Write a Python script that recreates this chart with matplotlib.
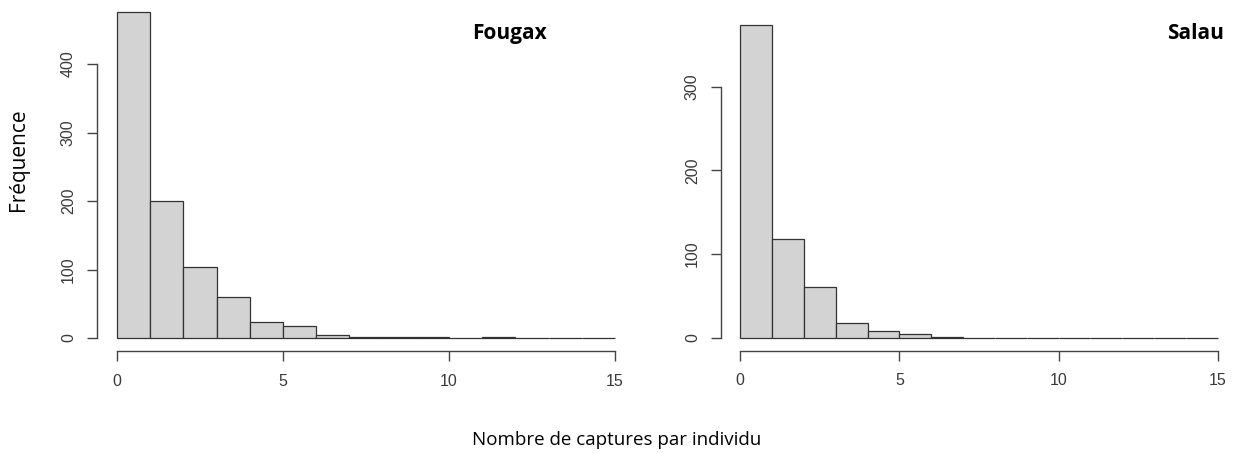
import matplotlib.pyplot as plt
import numpy as np

# bin edges shared by both histograms (width 1, 0..15)
bins = np.arange(0, 16)

# counts
fougax_counts = [476, 200, 103, 60, 23, 17, 5, 1, 1, 1, 0, 1, 0, 0, 0]
salau_counts = [374, 118, 61, 18, 8, 5, 1, 0, 0, 0, 0, 0, 0, 0, 0]

fougax_yticks = [0, 100, 200, 300, 400]
salau_yticks = [0, 100, 200, 300]
xticks = [0, 5, 10, 15]

fig = plt.figure(figsize=(12.33, 4.53), dpi=100)

tick_font = dict(family='Liberation Sans', size=11.5, color='#3a3a3a')


def draw_hist(ax, counts, yticks, ylim):
    ax.bar(bins[:-1], counts, width=1, align='edge', color='#d3d3d3',
           edgecolor='#333333', linewidth=0.9)
    ax.set_xlim(-0.6, 15.6)
    ax.set_ylim(*ylim)
    for s in ['top', 'right']:
        ax.spines[s].set_visible(False)
    ax.spines['left'].set_bounds(yticks[0], yticks[-1])
    ax.spines['bottom'].set_bounds(0, 15)
    for s in ['left', 'bottom']:
        ax.spines[s].set_color('#444444')
        ax.spines[s].set_linewidth(1.0)
    ax.set_xticks(xticks)
    ax.set_yticks(yticks)
    ax.set_xticklabels([str(t) for t in xticks], **tick_font)
    ax.set_yticklabels([str(t) for t in yticks], rotation=90, va='center', **tick_font)
    ax.tick_params(length=7.2, width=1.0, color='#444444')
    ax.tick_params(axis='y', pad=8)
    ax.tick_params(axis='x', pad=9)


ax1 = fig.add_axes([97 / 1233, 1 - 351 / 453, 538 / 1233, 352 / 453])
draw_hist(ax1, fougax_counts, fougax_yticks, (-19, 495))

ax2 = fig.add_axes([721 / 1233, 1 - 350.5 / 453, 516 / 1233, 338.5 / 453])
draw_hist(ax2, salau_counts, salau_yticks, (-15, 389))

fig.text(510 / 1233, 1 - 39 / 453, 'Fougax', ha='center', va='baseline',
         family='Open Sans', weight='bold', size=15)
fig.text(1195 / 1233, 1 - 39 / 453, 'Salau', ha='center', va='baseline',
         family='Open Sans', weight='bold', size=15)
fig.text(19 / 1233, 1 - 160 / 453, 'Fréquence', ha='center', va='center',
         rotation=90, family='Open Sans', size=15)
fig.text(617 / 1233, 1 - 440 / 453, 'Nombre de captures par individu',
         ha='center', va='center', family='Open Sans', size=13.5)

fig.savefig('out.png', dpi=100)
